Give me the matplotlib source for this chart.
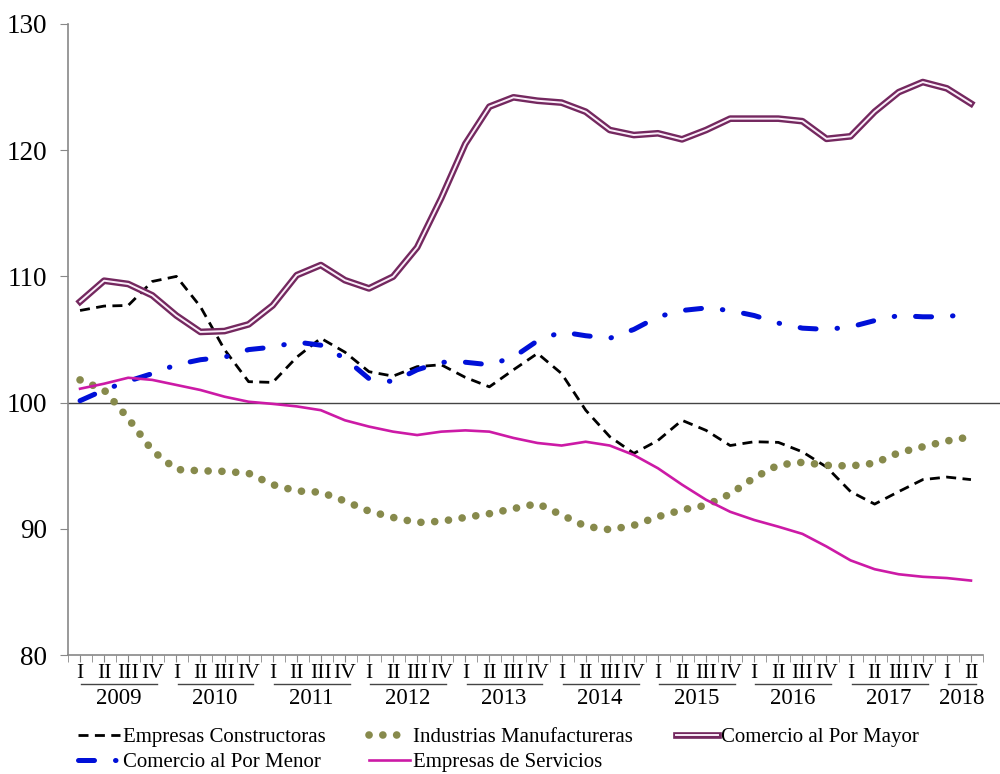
import matplotlib
matplotlib.use("Agg")
import matplotlib.pyplot as plt
import matplotlib.patheffects as pe

plt.rcParams['font.family'] = ['Liberation Serif', 'DejaVu Serif']

# datos trimestrales 2009-I a 2018-II
years = ['2009', '2010', '2011', '2012', '2013', '2014', '2015', '2016', '2017', '2018']
quarters = ['I', 'II', 'III', 'IV']

constructoras = [107.3, 107.65, 107.7, 109.6, 110.0, 107.6, 104.2, 101.66, 101.6, 103.6,
                 105.1, 104.0, 102.45, 102.1, 102.85, 103.0, 102.0, 101.25, 102.6, 103.9,
                 102.3, 99.4, 97.3, 95.98, 97.0, 98.6, 97.8, 96.6, 96.9, 96.85,
                 96.1, 94.9, 92.95, 91.96, 92.95, 93.9, 94.1, 93.9]
manufactureras = [101.8, 101.0, 98.75, 96.2, 94.7, 94.6, 94.55, 94.4, 93.5, 93.0,
                  92.9, 92.2, 91.4, 90.9, 90.5, 90.6, 90.9, 91.2, 91.6, 92.0,
                  91.1, 90.2, 89.93, 90.28, 90.96, 91.5, 91.86, 92.76, 94.05, 95.06,
                  95.27, 95.03, 94.98, 95.2, 96.03, 96.5, 96.96, 97.3]
mayor = [108.0, 109.66, 109.4, 108.5, 106.9, 105.6, 105.67, 106.2, 107.7, 110.1,
         110.9, 109.7, 109.05, 109.98, 112.3, 116.2, 120.5, 123.45, 124.19, 123.92,
         123.77, 123.05, 121.6, 121.2, 121.34, 120.86, 121.6, 122.5, 122.5, 122.5,
         122.3, 120.9, 121.1, 123.05, 124.6, 125.4, 124.9, 123.7]
menor = [100.15, 101.0, 101.7, 102.3, 103.0, 103.4, 103.6, 104.2, 104.4, 104.8,
         104.55, 103.5, 101.9, 101.66, 102.6, 103.2, 103.2, 103.0, 103.6, 104.9,
         105.6, 105.3, 105.1, 105.8, 106.8, 107.3, 107.5, 107.3, 106.9, 106.3,
         105.9, 105.8, 106.0, 106.5, 106.9, 106.8, 106.8, 107.1]
servicios = [101.1, 101.5, 101.97, 101.8, 101.4, 101.0, 100.47, 100.07, 99.9, 99.7,
             99.4, 98.6, 98.1, 97.7, 97.43, 97.7, 97.8, 97.7, 97.2, 96.8,
             96.6, 96.9, 96.6, 95.85, 94.8, 93.5, 92.3, 91.35, 90.7, 90.17,
             89.6, 88.6, 87.5, 86.8, 86.4, 86.2, 86.1, 85.9]

x = list(range(len(mayor)))
labels = [quarters[i % 4] for i in x]

fig = plt.figure(figsize=(10, 7.74), dpi=100)
ax = fig.add_axes([0.068, 0.1537, 0.915, 0.8153])

ax.plot(x, constructoras, color='black', lw=2.0, dashes=(3.6, 2.3),
        label='Empresas Constructoras')
ax.plot(x, menor, color='#0010d8', lw=3.6, dashes=(3.2, 4.2, 0.1, 4.2),
        dash_capstyle='round', label='Comercio al Por Menor')
ax.plot(x, manufactureras, color='#878a4c', lw=5.5, dashes=(0.01, 1.8),
        dash_capstyle='round', label='Industrias Manufactureras')
ax.plot(x, servicios, color='#cc1aa6', lw=1.9, label='Empresas de Servicios')
ax.plot(x, mayor, color='#fbeefa', lw=1.4, label='Comercio al Por Mayor',
        path_effects=[pe.Stroke(linewidth=4.8, foreground='#74285f'), pe.Normal()])

# linea de referencia en 100
ax.plot([-0.5, 38.2], [100, 100], color='#444444', lw=1.0, clip_on=False, zorder=1)

ax.set_xlim(-0.5, 37.35)
ax.set_ylim(80, 130)
ax.set_yticks([80, 90, 100, 110, 120, 130])
ax.tick_params(axis='y', labelsize=19.5, length=6, color='#888888', pad=9)

ax.set_xticks(x)
ax.set_xticklabels(labels, fontsize=15.5)
ax.set_xticks([i + 0.5 for i in range(-1, 38)], minor=True)
ax.tick_params(axis='x', which='both', length=5, color='#888888', pad=1.5)

for s in ['top', 'right']:
    ax.spines[s].set_visible(False)
for s in ['left', 'bottom']:
    ax.spines[s].set_color('#888888')
    ax.spines[s].set_linewidth(1.2)

# etiquetas de anio con linea
trans = ax.get_xaxis_transform()
for k, yr in enumerate(years):
    start = 4 * k
    end = min(4 * k + 3, len(x) - 1)
    ax.plot([start + 0.05, end + 0.2], [-0.046, -0.046], color='#444444', lw=1.0,
            transform=trans, clip_on=False)
    ax.text((start + end) / 2 + 0.1, -0.052, yr, transform=trans, ha='center', va='top',
            fontsize=16.5)

h, l = ax.get_legend_handles_labels()
fig.legend(h, l, ncol=3, frameon=False,
           loc='lower left', bbox_to_anchor=(0.07, -0.008), fontsize=15,
           handlelength=2.0, handletextpad=0.15, columnspacing=2.05,
           labelspacing=0.25, borderaxespad=0)

fig.savefig('out.png', dpi=100)
